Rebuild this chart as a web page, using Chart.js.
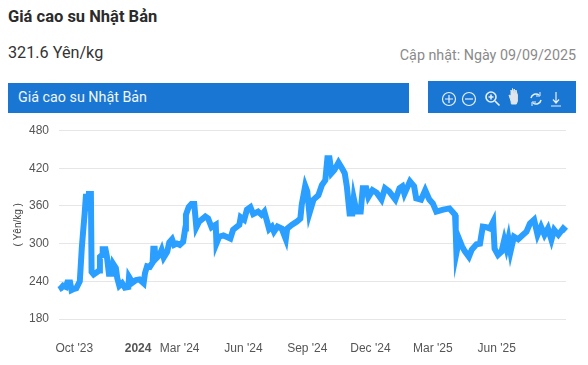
<!DOCTYPE html>
<html lang="vi">
<head>
  <meta charset="UTF-8">
  <title>Giá cao su Nhật Bản</title>
  <script src="https://cdn.jsdelivr.net/npm/chart.js@4"></script>
  <style>
    body { margin:0; width:588px; height:365px; position:relative; overflow:hidden; background:#fff; font-family:Roboto,sans-serif; }
    .abs { position:absolute; white-space:nowrap; }
    #title { left:8px; top:8px; font-size:16.5px; font-weight:700; color:#2b2b2b; line-height:18px; }
    #price { left:8px; top:43px; font-size:16.2px; color:#333; line-height:19px; }
    #updated { right:12px; top:46px; font-size:14.3px; color:#8a8a8a; line-height:18px; }
    #bar { left:8px; top:83px; width:401px; height:30px; background:#1976d2; color:#f2f6fb; font-size:14.3px; line-height:29px; text-indent:10px; }
    #tools { left:428px; top:81px; width:148px; height:32px; background:#1976d2; }
    #tools svg { position:absolute; left:0; top:0; }
    #wrap { left:0; top:120px; width:588px; height:245px; }
  </style>
</head>
<body>
  <div id="title" class="abs">Giá cao su Nhật Bản</div>
  <div id="price" class="abs">321.6 Yên/kg</div>
  <div id="updated" class="abs">Cập nhật: Ngày 09/09/2025</div>
  <div id="bar" class="abs">Giá cao su Nhật Bản</div>
  <div id="tools" class="abs">
    <svg width="148" height="32" fill="none" stroke="#e8f0fa" stroke-width="1.2">
      <circle cx="21" cy="18" r="6.5"/><path d="M17 18h8M21 14v8"/>
      <circle cx="41" cy="18" r="6.5"/><path d="M37 18h8"/>
      <circle cx="63" cy="16" r="5" stroke-width="1.6"/><path d="M60.5 16h5M63 13.5v5M67 20l4.5 4.5" stroke-width="1.6"/>
      <path d="M83 20l-2-6 2 1v-6l1.500 4v-5.500l1.700 5.500v-5l1.700 5v-4l1.500 5v6l-1 3h-5z" fill="#dfe5ea" stroke="#dfe5ea" stroke-width="1"/>
      <path d="M103 17a5 5 0 0 1 8-3M113 19a5 5 0 0 1-8 3" stroke-width="1.500"/><path d="M112 11v4h-4M104 25v-4h4" stroke-width="1"/>
      <path d="M128 11v11M125 18.500l3 3.500 3-3.500M123 25h10"/>
    </svg>
  </div>
  <div id="wrap" class="abs"><canvas id="chart" width="588" height="245"></canvas></div>

<script>
// days counted from 09/09/2023
const days = [0,3,6,10,12,16,18,22,25,30,33,35,37,39,41,43,46,47,50,54,58,59,62,63,67,69,72,76,78,82,84,87,91,95,100,101,106,111,116,122,124,127,131,135,136,138,139,145,148,151,156,159,163,166,170,174,179,182,183,187,191,195,198,202,211,215,220,226,227,231,237,243,247,251,260,262,267,271,276,280,287,292,296,303,307,310,315,321,327,329,336,343,348,350,355,358,361,367,374,379,384,387,390,393,397,403,408,412,415,419,423,425,429,435,438,443,446,452,458,465,470,476,485,491,495,498,506,512,515,522,528,534,539,544,554,563,571,572,573,577,581,585,591,595,602,607,611,616,621,626,628,633,638,642,645,648,651,656,662,669,674,679,685,690,695,700,705,710,714,720,727,731];
const prices = [227,229,233,231,238,238,226,228,229,240,295,322,348,379,352,379,379,255,251,254,257,279,282,291,291,280,252,252,268,261,245,233,237,230,231,247,238,242,243,237,253,264,263,270,292,292,275,282,290,278,287,302,307,298,300,298,303,324,346,358,363,363,326,335,343,340,326,330,300,311,313,310,308,322,330,342,338,354,358,347,351,346,351,323,327,319,327,324,307,324,330,335,340,362,392,383,348,370,377,393,401,436,436,412,417,429,420,412,391,348,348,372,351,351,388,388,374,385,381,370,388,383,370,388,391,379,399,391,372,370,385,370,364,351,354,356,346,320,285,307,296,288,279,290,299,300,327,326,324,335,292,282,287,306,293,308,287,311,307,314,319,332,338,314,327,314,324,306,322,314,324,320];
const tickDays = [22,114,174,266,358,449,539,631];
const tickLabels = ["Oct '23","2024","Mar '24","Jun '24","Sep '24","Dec '24","Mar '25","Jun '25"];
const yTicks = [180,240,300,360,420,480];

new Chart(document.getElementById("chart").getContext("2d"),{
  type:"line",
  data:{datasets:[{
    data:days.map((d,i)=>({x:d,y:prices[i]})),
    borderColor:"#2b9fff",borderWidth:6,pointRadius:0,tension:0,borderJoinStyle:"miter",clip:false
  }]},
  options:{
    responsive:false,animation:false,
    layout:{padding:{top:10.5,right:22,left:12,bottom:0}},
    plugins:{legend:{display:false},tooltip:{enabled:false}},
    scales:{
      x:{
        type:"linear",min:0,max:731,
        afterBuildTicks:a=>{a.ticks=tickDays.map(v=>({value:v}));},
        afterFit:a=>{a.height=46;a.paddingLeft=0;a.paddingRight=0;},
        grid:{display:false},border:{display:false},
        ticks:{
          autoSkip:false,maxRotation:0,padding:14,color:"#555",
          font:c=>({family:"Liberation Sans",size:12,weight:c.index===1?"bold":"normal"}),
          callback:v=>tickLabels[tickDays.indexOf(v)]
        }
      },
      y:{
        min:180,max:480,
        afterBuildTicks:a=>{a.ticks=yTicks.map(v=>({value:v}));},
        afterFit:a=>{a.width=47;a.paddingTop=0;a.paddingBottom=0;},
        grid:{color:"#e6e6e6",drawTicks:false},border:{display:false},
        ticks:{padding:10,color:"#555",font:{family:"Liberation Sans",size:12}},
        title:{display:true,text:"( Yên/kg )",color:"#444",font:{family:"Liberation Sans",size:10},padding:{top:0,bottom:0}}
      }
    }
  }
});
</script>
</body>
</html>
